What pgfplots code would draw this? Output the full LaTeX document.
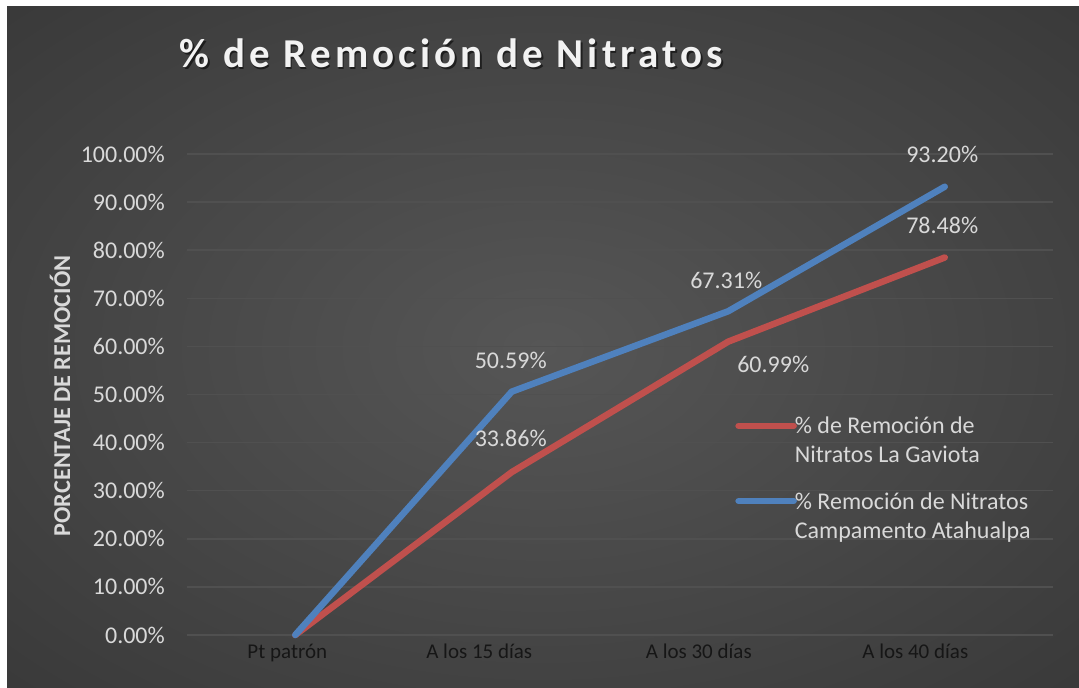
\documentclass[border=0pt]{standalone}
\usepackage{fontspec}
\setmainfont{Carlito}
\newfontfamily\titlefont[LetterSpace=10.3]{Carlito}
\usepackage{pgfplots}
\pgfplotsset{compat=1.18}

\definecolor{bgmid}{RGB}{86,86,86}
\definecolor{bgedge}{RGB}{46,46,46}
\definecolor{bgcorner}{RGB}{36,36,36}
\definecolor{gridc}{RGB}{80,80,80}
\definecolor{labc}{RGB}{217,217,217}
\definecolor{xlabc}{RGB}{22,22,22}
\definecolor{gaviota}{RGB}{192,80,77}
\definecolor{atahualpa}{RGB}{79,129,189}

\pgfdeclareradialshading{chartbg}{\pgfpoint{0bp}{0bp}}{%
  color(0bp)=(bgmid); color(50bp)=(bgedge); color(72bp)=(bgcorner)}

\begin{document}
\begin{tikzpicture}
\useasboundingbox (0,0) rectangle (1079pt,688pt);
\fill[white] (0,0) rectangle (1079pt,688pt);
\shade[shading=chartbg] (7pt,0pt) rectangle (1079pt,681pt);

% title with a soft shadow
\node[anchor=base, text=black, opacity=0.55, font=\titlefont\bfseries\fontsize{41}{48}\selectfont]
  at (453pt,618.5pt) {\% de Remoción de Nitratos};
\node[anchor=base, text=white!95!black, font=\titlefont\bfseries\fontsize{41}{48}\selectfont]
  at (451.5pt,620pt) {\% de Remoción de Nitratos};

\begin{axis}[
  at={(187pt,53pt)}, anchor=south west,
  scale only axis, width=866pt, height=481pt,
  xmin=-0.5, xmax=3.5, ymin=0, ymax=100,
  axis line style={draw=none},
  major tick length=0pt,
  ymajorgrids,
  grid style={line width=1.5pt, color=gridc},
  ytick={0,10,...,100},
  yticklabels={0.00\%,10.00\%,20.00\%,30.00\%,40.00\%,50.00\%,60.00\%,70.00\%,80.00\%,90.00\%,100.00\%},
  yticklabel style={anchor=east, inner sep=0pt, xshift=-22pt, text=labc,
    font=\fontsize{24}{28}\selectfont},
  xtick={-0.037,0.850,1.864,2.864},
  xticklabels={Pt patrón, A los 15 días, A los 30 días, A los 40 días},
  xticklabel style={anchor=base, inner sep=0pt, yshift=-24pt, text=xlabc,
    font=\fontsize{21}{25}\selectfont},
  ylabel={PORCENTAJE DE REMOCIÓN},
  every axis y label/.style={at={(rel axis cs:-0.1465,0.497)}, rotate=90, anchor=center,
    text=labc, font=\bfseries\fontsize{24.2}{29}\selectfont},
  legend style={draw=none, fill=none, at={(0.633,0.453)}, anchor=north west,
    text=labc, font=\fontsize{24}{29}\selectfont,
    row sep=28pt, column sep=-2pt, inner sep=0pt,
    cells={align=left}, nodes={inner sep=0pt}},
  legend cell align=left,
  legend image code/.code={\draw[#1, line cap=round] (0pt,15pt) -- (55pt,15pt);},
  every axis plot/.append style={line width=6.5pt, line join=round, line cap=round},
  clip=false,
]
\addplot[color=gaviota, mark=none] coordinates {(0,0) (1,33.86) (2,60.99) (3,78.48)};
\addlegendentry{\% de Remoción de\\Nitratos La Gaviota}
\addplot[color=atahualpa, mark=none] coordinates {(0,0) (1,50.59) (2,67.31) (3,93.20)};
\addlegendentry{\% Remoción de Nitratos\\Campamento Atahualpa}

\begin{scope}[every node/.style={text=labc, font=\fontsize{24}{29}\selectfont, inner sep=0pt}]
\node[xshift=-1pt, yshift=34pt] at (axis cs:1,33.86) {33.86\%};
\node[xshift=45pt, yshift=-23pt] at (axis cs:2,60.99) {60.99\%};
\node[xshift=-2.5pt, yshift=32.5pt] at (axis cs:3,78.48) {78.48\%};
\node[xshift=-1pt, yshift=31pt] at (axis cs:1,50.59) {50.59\%};
\node[xshift=-2pt, yshift=31pt] at (axis cs:2,67.31) {67.31\%};
\node[xshift=-2.5pt, yshift=32pt] at (axis cs:3,93.20) {93.20\%};
\end{scope}
\end{axis}
\end{tikzpicture}
\end{document}
